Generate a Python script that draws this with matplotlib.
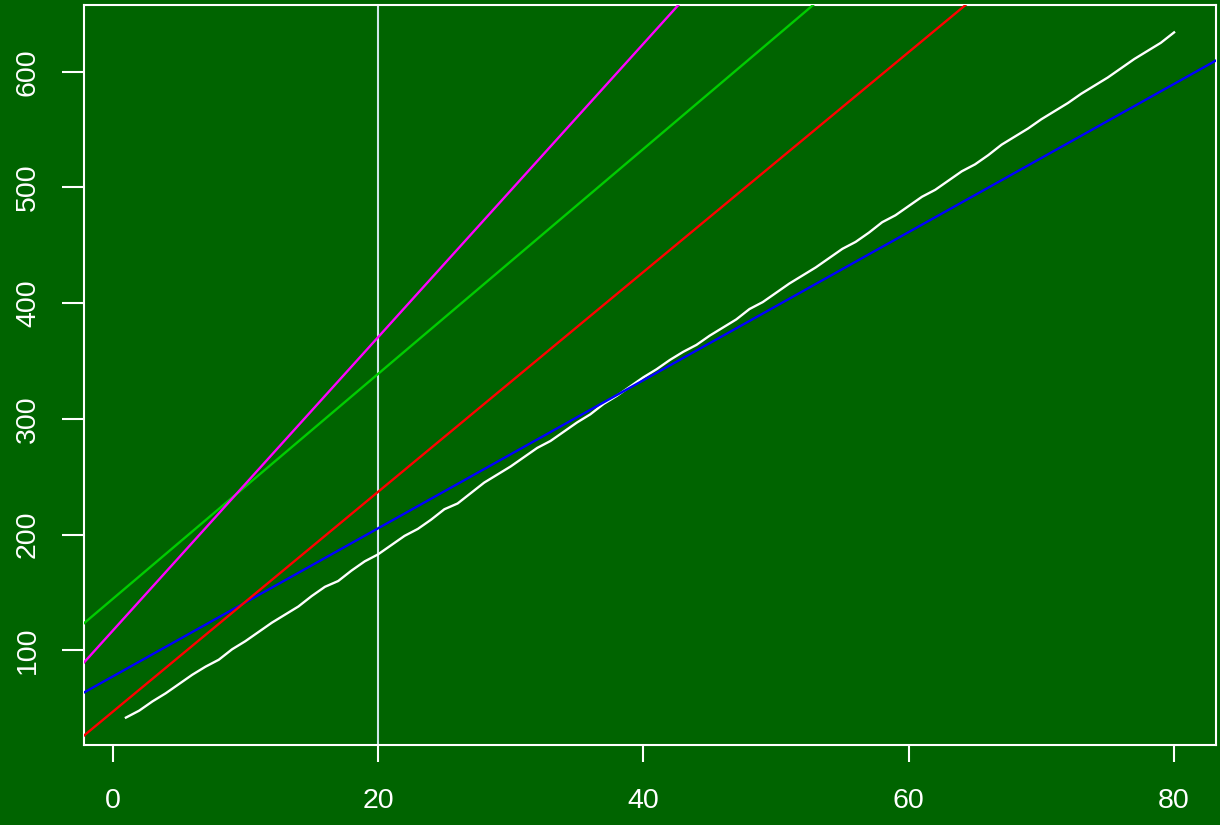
import matplotlib
matplotlib.use("Agg")
import matplotlib.pyplot as plt
import numpy as np

# Observed series (index 1..80)
x_obs = list(range(1, 81))
y_obs = [42, 48, 56, 63, 71, 79, 86, 92, 101, 108,
         116, 124, 131, 138, 147, 155, 160, 169, 177, 183,
         191, 199, 205, 213, 222, 227, 236, 245, 252, 259,
         267, 275, 281, 289, 297, 304, 313, 320, 328, 336,
         343, 351, 358, 364, 372, 379, 386, 395, 401, 409,
         417, 424, 431, 439, 447, 453, 461, 470, 476, 484,
         492, 498, 506, 514, 520, 528, 537, 544, 551, 559,
         566, 573, 581, 588, 595, 603, 611, 618, 625, 634]

# Reference lines: intercept and slope
line_names = ["blue", "red", "green", "magenta"]
line_intercepts = [77.5, 47.0, 144.5, 117.0]
line_slopes = [6.4, 9.5, 9.72, 12.68]
line_colors = ["#0000ff", "#ff0000", "#00cd00", "#ff00ff"]

vline_x = 20

x_ticks = [0, 20, 40, 60, 80]
y_ticks = [100, 200, 300, 400, 500, 600]

bg = "#006400"
fg = "white"

plt.rcParams["font.family"] = ["Liberation Sans", "DejaVu Sans"]

fig = plt.figure(figsize=(12.2, 8.25), dpi=100, facecolor=bg)
ax = fig.add_axes([84 / 1220, 1 - 745 / 825, (1216 - 84) / 1220, (745 - 5) / 825])
ax.set_facecolor(bg)

ax.plot(x_obs, y_obs, color=fg, lw=1.7, zorder=3)
for a, b, c in zip(line_intercepts, line_slopes, line_colors):
    ax.axline((0, a), slope=b, color=c, lw=1.7, zorder=4)
ax.axvline(vline_x, color="#cfe6ea", lw=1.5, zorder=2)

# 4% padding on each side, as in the classic style
xr = max(x_obs) - min(x_obs)
yr = max(y_obs) - min(y_obs)
ax.set_xlim(min(x_obs) - 0.04 * xr, max(x_obs) + 0.04 * xr)
ax.set_ylim(min(y_obs) - 0.04 * yr, max(y_obs) + 0.04 * yr)

ax.set_xticks(x_ticks)
ax.set_yticks(y_ticks)
ax.set_xticklabels([str(v) for v in x_ticks])
ax.set_yticklabels([str(v) for v in y_ticks], rotation=90, va="center")

for s in ax.spines.values():
    s.set_color(fg)
    s.set_linewidth(1.5)

ax.tick_params(axis="x", colors=fg, length=12, width=1.5, pad=19, labelsize=20.5)
ax.tick_params(axis="y", colors=fg, length=16, width=1.5, pad=15, labelsize=20.5)

fig.savefig("out.png", dpi=100, facecolor=bg)
